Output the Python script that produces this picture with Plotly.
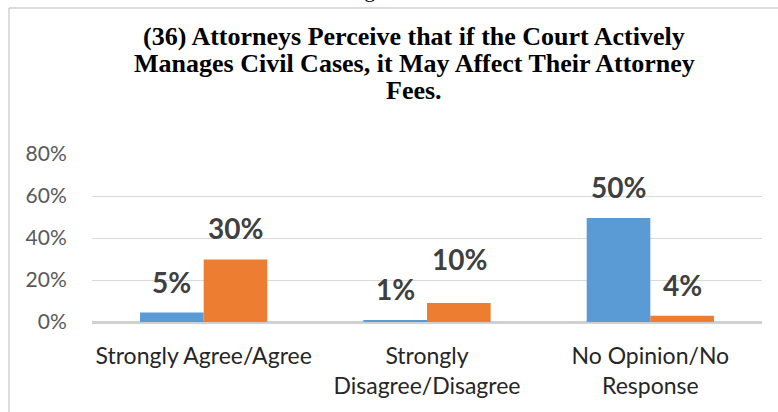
import plotly.graph_objects as go

# survey answers
categories = ["Strongly Agree/Agree", "Strongly<br>Disagree/Disagree", "No Opinion/No<br>Response"]
blue_vals = [0.045, 0.01, 0.495]
orange_vals = [0.298, 0.09, 0.03]
blue_labels = ["5%", "1%", "50%"]
orange_labels = ["30%", "10%", "4%"]
y_ticks = [0, 0.2, 0.4, 0.6, 0.8]
title_lines = ["(36) Attorneys Perceive that if the Court Actively",
               "Manages Civil Cases, it May Affect Their Attorney",
               "Fees."]

BLUE = "#5B9BD5"
ORANGE = "#ED7D31"
W, H = 778, 412
L, R, T, B = 92, 16, 154, 90
PH = H - T - B
PW = W - L - R


def px_x(x):
    return (x - L) / PW


def px_y(y):
    return 1 + (T - y) / PH


fig = go.Figure()
fig.add_trace(go.Bar(x=categories, y=blue_vals, marker_color=BLUE, marker_line_width=0, name="A"))
fig.add_trace(go.Bar(x=categories, y=orange_vals, marker_color=ORANGE, marker_line_width=0, name="B"))

# value labels sit well above the bars
label_font = dict(family="Lato", size=28, color="#404040")
for i, c in enumerate(categories):
    fig.add_annotation(x=c, y=blue_vals[i], text="<b>%s</b>" % blue_labels[i], showarrow=False,
                       xshift=-32, yshift=31, font=label_font)
    ys = 44 if orange_labels[i] == "10%" else 31
    fig.add_annotation(x=c, y=orange_vals[i], text="<b>%s</b>" % orange_labels[i], showarrow=False,
                       xshift=32, yshift=ys, font=label_font)

# title, one annotation per line to keep the tight line spacing
for i, line in enumerate(title_lines):
    fig.add_annotation(text="<b>%s</b>" % line, xref="paper", yref="paper",
                       x=px_x(414), y=px_y(47 + 27 * i), yanchor="bottom", yshift=-6,
                       showarrow=False, font=dict(family="Liberation Serif", size=26, color="black"))

# caption peeking over the top edge
fig.add_annotation(text="Figure 25", xref="paper", yref="paper", x=px_x(388), y=px_y(4),
                   yanchor="bottom", showarrow=False,
                   font=dict(family="Liberation Serif", size=22, color="black"))

# chart frame (left and top edges visible)
fig.add_shape(type="line", xref="paper", yref="paper", x0=px_x(9), x1=px_x(820),
              y0=px_y(8), y1=px_y(8), line=dict(color="#D0D0D0", width=1.5))
fig.add_shape(type="line", xref="paper", yref="paper", x0=px_x(9), x1=px_x(9),
              y0=px_y(420), y1=px_y(8), line=dict(color="#D0D0D0", width=1.5))

fig.update_layout(
    width=W, height=H,
    margin=dict(l=L, r=R, t=T, b=B),
    paper_bgcolor="white", plot_bgcolor="white",
    barmode="group", bargap=0.43, bargroupgap=0,
    showlegend=False,
    xaxis=dict(showline=False, showgrid=False, ticks="outside", ticklen=13, tickcolor="rgba(0,0,0,0)",
               tickfont=dict(family="Lato", size=23, color="#262626")),
    yaxis=dict(range=[0, 0.8], tickvals=y_ticks, tickformat=".0%", showline=False,
               gridcolor="#D9D9D9", gridwidth=1, zeroline=True, zerolinecolor="#D0D0D0", zerolinewidth=2.5,
               ticks="outside", ticklen=20, tickcolor="rgba(0,0,0,0)",
               tickfont=dict(family="Lato", size=21, color="#595959")),
)

fig.write_html("out.html", config={"displayModeBar": False},
               post_script="document.body.style.margin='0';")
